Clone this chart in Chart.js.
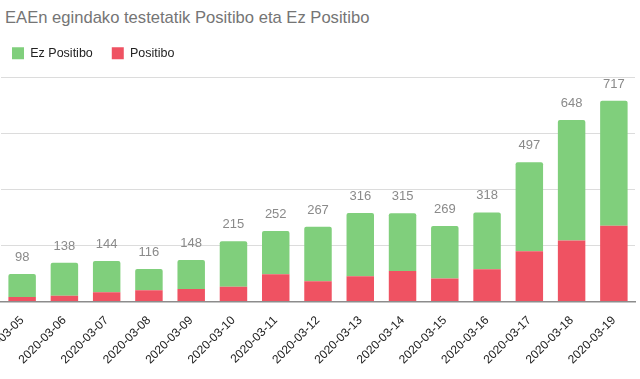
<!DOCTYPE html>
<html>
<head>
<meta charset="utf-8">
<script src="https://cdn.jsdelivr.net/npm/chart.js@4/dist/chart.umd.min.js"></script>
<style>
  html, body { margin: 0; padding: 0; background: #fff; }
  #wrap { position: relative; width: 640px; height: 379px; overflow: hidden; }
  #title { position: absolute; left: 5px; top: 8px; font-family: "Liberation Sans", Arial, sans-serif; font-size: 16.6px; color: #757575; white-space: nowrap; }
  canvas { position: absolute; left: 0; top: 0; }
</style>
</head>
<body>
<div id="wrap">
  <div id="title">EAEn egindako testetatik Positibo eta Ez Positibo</div>
  <canvas id="c" width="640" height="379"></canvas>
</div>
<script>
const categories = ["2020-03-05","2020-03-06","2020-03-07","2020-03-08","2020-03-09","2020-03-10","2020-03-11","2020-03-12","2020-03-13","2020-03-14","2020-03-15","2020-03-16","2020-03-17","2020-03-18","2020-03-19"];
const positibo   = [16, 20, 33, 40, 44, 52, 97, 72, 90, 109, 82, 115, 179, 218, 270];
const ezPositibo = [82, 118, 111, 76, 104, 163, 155, 195, 226, 206, 187, 203, 318, 430, 447];
const yTicks = [0, 200, 400, 600, 800];

const FONT = '"Liberation Sans", Arial, sans-serif';

const totalsPlugin = {
  id: 'totals',
  afterDatasetsDraw(chart) {
    const ctx = chart.ctx;
    const top = chart.getDatasetMeta(1);
    ctx.save();
    ctx.font = '13px ' + FONT;
    ctx.fillStyle = '#8a8a8a';
    ctx.textAlign = 'center';
    ctx.textBaseline = 'bottom';
    top.data.forEach((bar, i) => {
      const total = positibo[i] + ezPositibo[i];
      ctx.fillText(String(total), bar.x, bar.y - 10);
    });
    ctx.restore();
  }
};

const legendSpace = {
  id: 'legendSpace',
  beforeInit(chart) {
    const origFit = chart.legend.fit;
    chart.legend.fit = function () {
      origFit.call(this);
      this.height += 8;
    };
  },
  afterLayout(chart) {
    chart.legend.left -= 8;
  }
};

new Chart(document.getElementById('c'), {
  type: 'bar',
  data: {
    labels: categories,
    datasets: [
      {
        label: 'Positibo',
        data: positibo,
        backgroundColor: '#ef5262',
        borderWidth: 0,
        barPercentage: 0.65,
        categoryPercentage: 1
      },
      {
        label: 'Ez Positibo',
        data: ezPositibo,
        backgroundColor: '#80cf7c',
        borderWidth: 0,
        borderRadius: {topLeft: 2, topRight: 2, bottomLeft: 0, bottomRight: 0},
        borderSkipped: false,
        barPercentage: 0.65,
        categoryPercentage: 1
      }
    ]
  },
  options: {
    responsive: false,
    animation: false,
    layout: { padding: { left: 1, right: 5, top: 28, bottom: 8 } },
    plugins: {
      title: { display: false },
      tooltip: { enabled: false },
      legend: {
        display: true,
        position: 'top',
        align: 'start',
        reverse: true,
        labels: {
          boxWidth: 12,
          boxHeight: 12,
          padding: 19,
          color: '#222',
          font: { family: FONT, size: 12.5 }
        }
      }
    },
    scales: {
      x: {
        stacked: true,
        grid: { display: false },
        border: { display: true, color: '#8c8c8c', width: 1.5 },
        ticks: {
          color: '#222',
          font: { family: FONT, size: 12 },
          minRotation: 45,
          maxRotation: 45,
          padding: 4
        },
        afterFit(scale) { scale.paddingLeft = 0; scale.paddingRight = 0; }
      },
      y: {
        stacked: true,
        min: 0,
        max: yTicks[yTicks.length - 1],
        afterBuildTicks(scale) { scale.ticks = yTicks.map(v => ({ value: v })); },
        grid: { color: '#dcdcdc', lineWidth: 1, drawTicks: false },
        border: { display: false },
        ticks: { display: false }
      }
    }
  },
  plugins: [totalsPlugin, legendSpace]
});
</script>
</body>
</html>
